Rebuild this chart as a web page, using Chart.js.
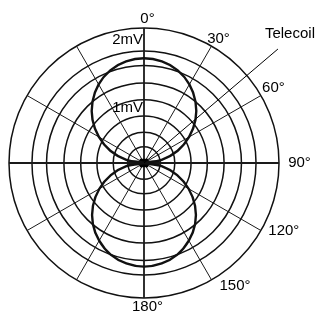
<!DOCTYPE html>
<html>
<head>
<meta charset="utf-8">
<script src="https://cdn.jsdelivr.net/npm/chart.js@4/dist/chart.umd.min.js"></script>
<style>
  html, body { margin: 0; padding: 0; background: #fff; }
</style>
</head>
<body>
<canvas id="polar" width="316" height="313"></canvas>
<script>
(() => {
    // direction of the field, degrees, 0 at top, clockwise
    const angles = [0, 10, 20, 30, 40, 50, 60, 70, 80, 90, 100, 110,
        120, 130, 140, 150, 160, 170, 180, 190, 200, 210, 220, 230,
        240, 250, 260, 270, 280, 290, 300, 310, 320, 330, 340, 350];
    // telecoil output, mV
    const telecoilMV = [1.87, 1.84, 1.76, 1.62, 1.43, 1.20, 0.93, 0.64, 0.32, 0,
        0.32, 0.63, 0.92, 1.19, 1.42, 1.60, 1.74, 1.82, 1.85, 1.82,
        1.74, 1.60, 1.42, 1.19, 0.92, 0.63, 0.32, 0, 0.32, 0.64,
        0.93, 1.20, 1.43, 1.62, 1.76, 1.84];
    // grid rings, mV
    const rings = [0.29, 0.55, 0.84, 1.13, 1.43, 1.74, 2.0, 2.41];
    const ringLabels = ['1mV', '2mV'];
    const ringLabelValues = [1, 2];
    const angleLabels = [0, 30, 60, 90, 120, 150, 180];
    const seriesName = 'Telecoil';
    const seriesAngle = 49.6;  // direction of the callout line
    const seriesReach = 3.14;  // mV, where the callout ends

    const FONT = '15px "Liberation Sans", Arial, sans-serif';

    // where each degree label sits: [direction, px past the outer ring]
    const labelSpot = {
        0: [1.4, 9.5], 30: [31, 9.7], 60: [60, 14.4], 90: [90, 20.5],
        120: [116, 20.6], 150: [143.5, 18], 180: [178.6, 8.5]
    };

    // texts drawn around the polar scale
    const polarText = {
        id: 'polarText',
        afterDraw(chart) {
            const s = chart.scales.r;
            const ctx = chart.ctx;
            const cx = s.xCenter, cy = s.yCenter;
            ctx.save();
            ctx.fillStyle = '#000';
            ctx.strokeStyle = '#000';
            ctx.font = FONT;
            ctx.textAlign = 'center';
            ctx.textBaseline = 'middle';

            // degree labels just outside the outer ring
            const outer = s.getDistanceFromCenterForValue(s.max);
            angleLabels.forEach(a => {
                const [dir, gap] = labelSpot[a];
                const rad = dir * Math.PI / 180;
                const d = outer + gap;
                ctx.fillText(a + '°', cx + Math.sin(rad) * d, cy - Math.cos(rad) * d);
            });

            // mV labels to the left of the 0° line
            const shift = { '1mV': 1, '2mV': -11 };
            ctx.textAlign = 'right';
            ringLabels.forEach((txt, i) => {
                const d = s.getDistanceFromCenterForValue(ringLabelValues[i]);
                ctx.fillText(txt, cx - 1, cy - d + shift[txt]);
            });

            // callout line and series name
            const rad = seriesAngle * Math.PI / 180;
            const reach = s.getDistanceFromCenterForValue(seriesReach);
            const ex = cx + Math.sin(rad) * reach;
            const ey = cy - Math.cos(rad) * reach;
            ctx.lineWidth = 1;
            ctx.beginPath();
            ctx.moveTo(cx, cy);
            ctx.lineTo(ex, ey);
            ctx.stroke();
            ctx.textAlign = 'center';
            ctx.fillText(seriesName, ex + 12, ey - 15);
            ctx.restore();
        }
    };

    const hub = angles.map((a, i) => (i === 0 ? 0 : null));

    new Chart(document.getElementById('polar'), {
        type: 'radar',
        data: {
            labels: angles.map(a => a + '°'),
            datasets: [
                {
                    label: seriesName,
                    data: telecoilMV,
                    borderColor: '#111',
                    borderWidth: 2.4,
                    fill: false,
                    tension: 0.4,
                    pointRadius: 0
                },
                {
                    label: 'hub',
                    data: hub,
                    showLine: false,
                    fill: false,
                    pointStyle: 'rect',
                    pointRadius: 6,
                    pointBorderWidth: 0,
                    pointBackgroundColor: '#000'
                }
            ]
        },
        options: {
            responsive: false,
            animation: false,
            devicePixelRatio: 1,
            layout: { padding: { left: 9, right: 37, top: 28, bottom: 15 } },
            plugins: {
                legend: { display: false },
                tooltip: { enabled: false }
            },
            scales: {
                r: {
                    min: 0,
                    max: rings[rings.length - 1],
                    startAngle: 0,
                    ticks: { display: false },
                    afterBuildTicks: sc => {
                        sc.ticks = [0, ...rings].map(v => ({ value: v }));
                    },
                    grid: { circular: true, color: '#111', lineWidth: 1.5 },
                    angleLines: {
                        color: '#1a1a1a',
                        lineWidth: c => (angles[c.index] % 90 === 0 ? 1.8 : (angles[c.index] % 30 === 0 ? 1 : 0))
                    },
                    pointLabels: { display: false }
                }
            }
        },
        plugins: [polarText]
    });
})();
</script>
</body>
</html>
